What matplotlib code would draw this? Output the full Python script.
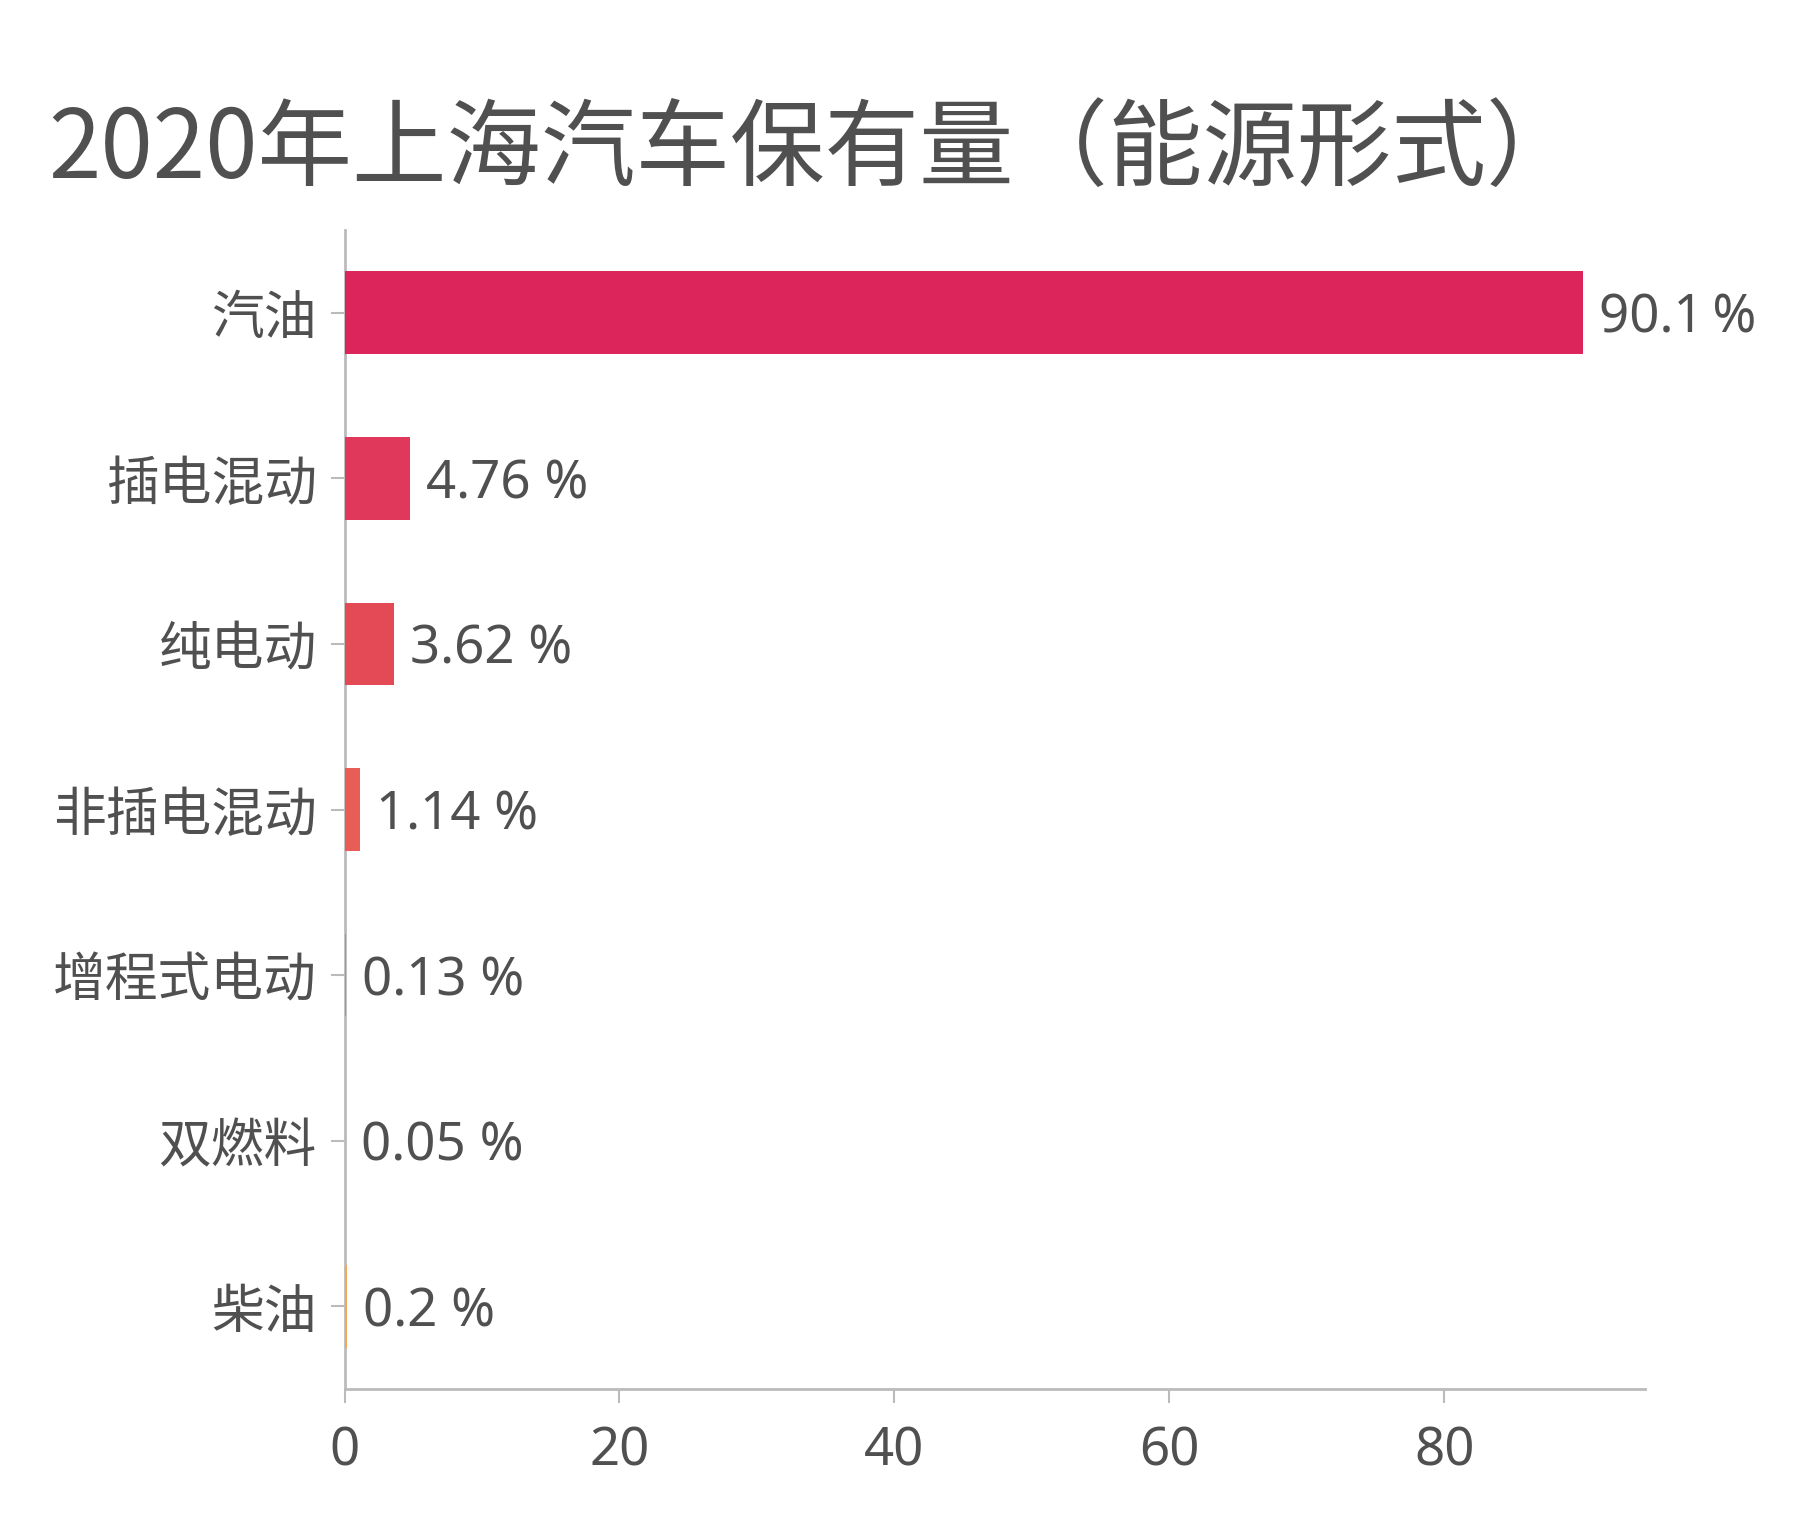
import matplotlib
matplotlib.use("Agg")
import matplotlib.pyplot as plt

plt.rcParams['font.family'] = ['Noto Sans CJK SC', 'DejaVu Sans']

categories = ["汽油", "插电混动", "纯电动", "非插电混动", "增程式电动", "双燃料", "柴油"]
values = [90.1, 4.76, 3.62, 1.14, 0.13, 0.05, 0.2]
labels = ["90.1\u2009%", "4.76 %", "3.62 %", "1.14 %", "0.13 %", "0.05 %", "0.2 %"]
colors = ["#DC255A", "#E0385A", "#E34A56", "#E85E57", "#EF7E5C", "#F29A6A", "#F7A655"]
title = "2020年上海汽车保有量（能源形式）"

text_color = "#505050"
axis_color = "#BBBBBB"
latin = ['Noto Sans', 'DejaVu Sans', 'Noto Sans CJK SC']

fig = plt.figure(figsize=(18, 15.27), dpi=100)
ax = fig.add_axes([344.5 / 1800, 1 - 1389 / 1527, (1645 - 344.5) / 1800, (1389 - 230) / 1527])

y = list(range(len(categories)))
ax.barh(y, values, height=0.5, color=colors, zorder=3)
for yi, v, lab in zip(y, values, labels):
    ax.text(v + 1.15, yi, lab, va='center_baseline', ha='left', fontsize=38,
            color=text_color, family=latin)

ax.set_yticks(y)
ax.set_yticklabels(categories, fontsize=38, color=text_color)
ax.set_ylim(6.5, -0.5)
ax.set_xlim(0, 94.6)
ax.set_xticks([0, 20, 40, 60, 80])
ax.set_xticklabels(["0", "20", "40", "60", "80"], family=latin)
ax.tick_params(axis='x', labelsize=38, labelcolor=text_color, color=axis_color, length=10, width=1.5, pad=16)
ax.tick_params(axis='y', color=axis_color, length=10, width=1.5, pad=10)

for s in ['top', 'right']:
    ax.spines[s].set_visible(False)
for s in ['left', 'bottom']:
    ax.spines[s].set_color(axis_color)
    ax.spines[s].set_linewidth(2)

fig.text(48 / 1800, 1 - 178 / 1527, title, fontsize=68, color=text_color, ha='left', va='baseline')

fig.savefig("out.png", dpi=100, facecolor='white')
